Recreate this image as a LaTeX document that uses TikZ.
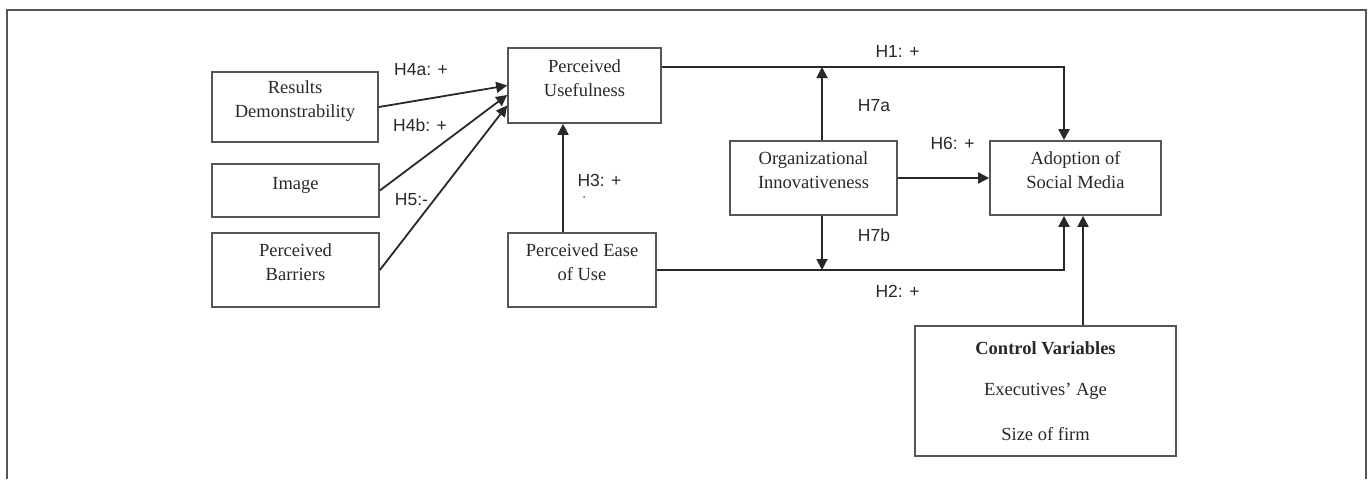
\documentclass[tikz,border=0pt]{standalone}
\usepackage{fontspec}
\setmainfont{Liberation Serif}
\newfontfamily\hypfont{Liberation Sans}
\usetikzlibrary{arrows.meta, calc}
\definecolor{boxgray}{RGB}{85,85,85}
\definecolor{inkgray}{RGB}{40,40,40}
\newcommand{\boxtext}[1]{\raisebox{6pt}[\height][\depth]{\begin{tabular}{@{}c@{}}#1\end{tabular}}}

\begin{document}
\begin{tikzpicture}[x=1pt, y=-1pt]
    \tikzstyle{construct} = [draw=boxgray, line width=1.7pt, text=inkgray, font=\fontsize{18.5}{24}\selectfont, inner sep=0pt]
    \tikzstyle{hyp} = [text=inkgray, font=\hypfont\fontsize{17.5}{21}\selectfont, inner sep=0pt]
    \tikzstyle{link} = [draw=inkgray, line width=1.8pt, -{Triangle[length=11pt,width=11pt]}]
    \tikzstyle{frame} = [draw=boxgray, line width=1.3pt]

    \useasboundingbox (0,0) rectangle (1370,479);
    \draw[frame] (7,479) -- (7,10) -- (1366,10) -- (1366,479);

    % constructs
    \node[construct, minimum width=166pt, minimum height=70pt] (results) at (295,107) {\boxtext{Results\\Demonstrability}};
    \node[construct, minimum width=167pt, minimum height=53pt] (image) at (295.5,190.5) {\boxtext{Image}};
    \node[construct, minimum width=167pt, minimum height=74pt] (barriers) at (295.5,270) {\boxtext{Perceived\\Barriers}};
    \node[construct, minimum width=153pt, minimum height=75pt] (usefulness) at (584.5,85.5) {\boxtext{Perceived\\Usefulness}};
    \node[construct, minimum width=148pt, minimum height=74pt] (ease) at (582,270) {\boxtext{Perceived Ease\\of Use}};
    \node[construct, minimum width=167pt, minimum height=74pt] (innov) at (813.5,178) {\boxtext{Organizational\\Innovativeness}};
    \node[construct, minimum width=171pt, minimum height=74pt] (adoption) at (1075.5,178) {\boxtext{Adoption of\\Social Media}};
    \node[construct, minimum width=261pt, minimum height=130pt, align=center] (control) at (1045.5,391) {\textbf{Control Variables}\\[17pt] Executives’ Age\\[21pt] Size of firm};

    % hypotheses
    \node[hyp] (h4a) at (421,70) {H4a: +};
    \node[hyp] (h4b) at (420,125) {H4b: +};
    \node[hyp] (h5) at (411.5,200) {H5:-};
    \node[hyp] (h3) at (599.5,180) {H3: +};
    \node[hyp] (h1) at (897.5,51) {H1: +};
    \node[hyp] (h7a) at (874,106) {H7a};
    \node[hyp] (h6) at (952.5,143) {H6: +};
    \node[hyp] (h7b) at (874,235) {H7b};
    \node[hyp] (h2) at (897.5,291) {H2: +};
    \fill[blue!70] (584,197) circle (1);

    \coordinate (h1start) at ([yshift=18.5pt]usefulness.east);

    \draw[link] (results.east) -- (usefulness.west);
    \draw[link] (image.east) -- ([yshift=-9.5pt]usefulness.west);
    \draw[link] (barriers.east) -- ([yshift=-20pt]usefulness.west);
    \draw[link] ([xshift=-19pt]ease.north) -- ([xshift=-19pt]ease.north |- usefulness.south);
    \draw[link] (h1start) -| ([xshift=-11.5pt]adoption.north);
    \draw[link] (ease.east) -| ([xshift=-11.5pt]adoption.south);
    \draw[link] (innov.east) -- (adoption.west);
    \draw[link] ([xshift=8.5pt]innov.north) -- ([xshift=8.5pt]innov.north |- h1start);
    \draw[link] ([xshift=8.5pt]innov.south) -- ([xshift=8.5pt]innov.south |- ease.east);
    \draw[link] ([xshift=37.5pt]control.north) -- ([xshift=37.5pt]control.north |- adoption.south);
\end{tikzpicture}
\end{document}
